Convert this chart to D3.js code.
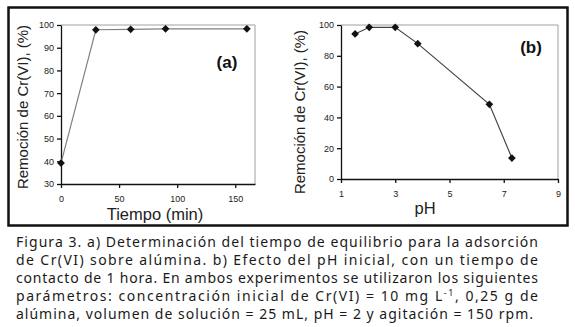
<!DOCTYPE html>
<meta charset="utf-8">
<script src="https://d3js.org/d3.v7.min.js"></script>
<style>
  body { margin: 0; background: white; }
  svg { font-family: "Liberation Sans", Arial, sans-serif; }
</style>
<body>
<div id="chart"></div>
<script>

// panel (a): removal vs time
var timeX = [0, 30, 60, 90, 160];
var timeY = [39.2, 97.9, 98.1, 98.3, 98.3];
var timeTicksX = [0, 50, 100, 150];
var timeTicksY = [30, 40, 50, 60, 70, 80, 90, 100];

// panel (b): removal vs pH
var phX = [1.52, 2.04, 3.0, 3.83, 6.47, 7.3];
var phY = [94.2, 98.5, 98.5, 87.9, 48.5, 13.6];
var phTicksX = [1, 3, 5, 7, 9];
var phTicksY = [0, 20, 40, 60, 80, 100];

var yTitle = "Remoción de Cr(VI), (%)";

var caption = [
  "Figura 3. a) Determinación del tiempo de equilibrio para la adsorción",
  "de Cr(VI) sobre alúmina. b) Efecto del pH inicial, con un tiempo de",
  "contacto de 1 hora. En ambos experimentos se utilizaron los siguientes",
  "parámetros: concentración inicial de Cr(VI) = 10 mg L",
  "alúmina, volumen de solución = 25 mL, pH = 2 y agitación = 150 rpm."
];

var svg = d3.select("#chart").append("svg")
  .attr("width", 575).attr("height", 327);

svg.append("rect").attr("width", 575).attr("height", 327).attr("fill", "white");

// outer frame
svg.append("rect")
  .attr("x", 8.5).attr("y", 7.5).attr("width", 559).attr("height", 218)
  .attr("fill", "none").attr("stroke", "#111").attr("stroke-width", 2.5);

function panel(opts) {
  var g = svg.append("g");
  var x = d3.scaleLinear().domain(opts.xDomain).range([opts.left, opts.right]);
  var y = d3.scaleLinear().domain(opts.yDomain).range([opts.bottom, opts.top]);

  // grey plot border (top/right)
  g.append("path")
    .attr("d", "M" + opts.left + "," + opts.top + "H" + opts.right + "V" + opts.bottom)
    .attr("fill", "none").attr("stroke", "#a0a0a0").attr("stroke-width", 1);

  var ax = g.append("g")
    .attr("transform", "translate(0," + opts.bottom + ")")
    .call(d3.axisBottom(x).tickValues(opts.xTicks).tickSize(4).tickSizeOuter(0));
  ax.selectAll("text").attr("dy", "1.2em");

  var ay = g.append("g")
    .attr("transform", "translate(" + opts.left + ",0)")
    .call(d3.axisLeft(y).tickValues(opts.yTicks).tickSize(4).tickSizeOuter(0));

  [ax, ay].forEach(function(a) {
    a.selectAll("path, line").attr("stroke", "#111").attr("stroke-width", 1.3);
    a.selectAll("text").attr("font-size", 9).attr("fill", "#222")
      .attr("font-family", "'Liberation Sans', Arial, sans-serif");
  });

  var line = d3.line()
    .x(function(d) { return x(d[0]); })
    .y(function(d) { return y(d[1]); });
  var pts = opts.xs.map(function(v, i) { return [v, opts.ys[i]]; });

  g.append("path").datum(pts)
    .attr("d", line)
    .attr("fill", "none").attr("stroke", opts.lineColor).attr("stroke-width", 1.2);

  g.selectAll(".pt").data(pts).enter().append("path")
    .attr("transform", function(d) { return "translate(" + x(d[0]) + "," + y(d[1]) + ")"; })
    .attr("d", d3.symbol().type(d3.symbolDiamond2).size(38))
    .attr("fill", "#111");

  g.append("text")
    .attr("transform", "translate(" + opts.yTitleX + "," + opts.yTitleY + ") rotate(-90)")
    .attr("text-anchor", "middle").attr("font-size", 15).attr("fill", "#222")
    .text(yTitle);

  g.append("text")
    .attr("x", opts.xTitleX).attr("y", opts.xTitleY)
    .attr("text-anchor", "middle").attr("font-size", opts.xTitleSize).attr("fill", "#222")
    .text(opts.xTitle);

  g.append("text")
    .attr("x", opts.tagX).attr("y", opts.tagY)
    .attr("text-anchor", "middle").attr("font-size", 17).attr("font-weight", "bold")
    .attr("fill", "#111")
    .text(opts.tag);
}

panel({
  xs: timeX, ys: timeY, xTicks: timeTicksX, yTicks: timeTicksY,
  xDomain: [0, 167], yDomain: [30, 100],
  left: 61, right: 255, top: 25, bottom: 184,
  lineColor: "#808080",
  yTitleX: 28, yTitleY: 107, xTitle: "Tiempo (min)", xTitleX: 155, xTitleY: 219.5, xTitleSize: 16.5,
  tag: "(a)", tagX: 227, tagY: 68
});

panel({
  xs: phX, ys: phY, xTicks: phTicksX, yTicks: phTicksY,
  xDomain: [1, 9], yDomain: [0, 100],
  left: 341, right: 558, top: 25, bottom: 179,
  lineColor: "#444",
  yTitleX: 305, yTitleY: 112, xTitle: "pH", xTitleX: 425, xTitleY: 214, xTitleSize: 16.5,
  tag: "(b)", tagX: 531, tagY: 53
});

// caption, justified like the printed figure
var cap = svg.append("g").attr("font-family", "'Noto Sans', sans-serif")
  .attr("font-size", 14).attr("fill", "#1a1a1a");
var lineY = [247, 265, 283, 301, 318.5];

cap.append("text").attr("x", 16).attr("y", lineY[0])
  .attr("textLength", 522).attr("lengthAdjust", "spacing").text(caption[0]);
cap.append("text").attr("x", 16).attr("y", lineY[1])
  .attr("textLength", 522).attr("lengthAdjust", "spacing").text(caption[1]);
cap.append("text").attr("x", 16).attr("y", lineY[2])
  .attr("textLength", 522).attr("lengthAdjust", "spacing").text(caption[2]);

var l4 = cap.append("text").attr("x", 16).attr("y", lineY[3])
  .attr("textLength", 522).attr("lengthAdjust", "spacing");
l4.append("tspan").text(caption[3]);
l4.append("tspan").attr("dy", -5).attr("font-size", 9).text("-1");
l4.append("tspan").attr("dy", 5).text(", 0,25 g de");

cap.append("text").attr("x", 16).attr("y", lineY[4])
  .attr("textLength", 517).attr("lengthAdjust", "spacing").text(caption[4]);

</script>
</body>
